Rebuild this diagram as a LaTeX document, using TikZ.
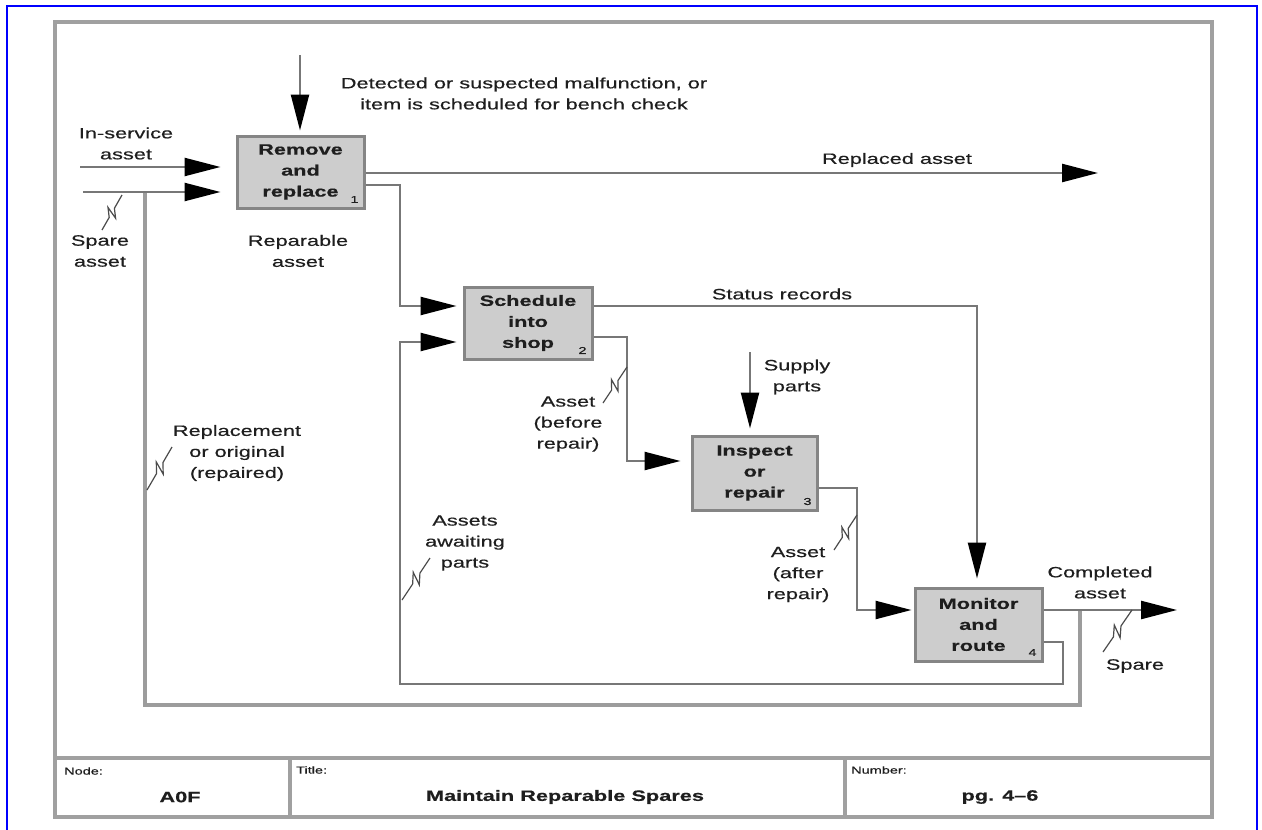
\documentclass[tikz,border=0pt]{standalone}
\usepackage{fontspec}
\usetikzlibrary{arrows.meta,calc}
\newfontfamily\lblfont[FakeStretch=1.45,FakeBold=0.4,Ligatures=TeX]{Liberation Sans}

\definecolor{framegray}{HTML}{A0A0A0}
\definecolor{linegray}{HTML}{777777}
\definecolor{loopgray}{HTML}{9C9C9C}
\definecolor{boxfill}{HTML}{CDCDCD}
\definecolor{boxedge}{HTML}{858585}
\definecolor{inkdark}{HTML}{1E1E1E}

% IDEF0 squiggle tying an arrow to its label
\newcommand\zig[2]{%
  \draw[zigl] (#1) -- ($(#1)!0.38!(#2)$)
    -- ($(#1)!0.58!(#2)!6pt!90:(#2)$)
    -- ($(#1)!0.44!(#2)!6pt!-90:(#2)$)
    -- ($(#1)!0.64!(#2)$) -- (#2);}

\tikzset{
  lbl/.style={font=\lblfont\fontsize{15}{21}\selectfont, text=inkdark, align=center, inner sep=0pt},
  act/.style={draw=boxedge, fill=boxfill, line width=3pt, inner sep=0pt,
              font=\lblfont\bfseries\fontsize{15}{21}\selectfont, text=inkdark, align=center},
  num/.style={font=\lblfont\fontsize{10}{11}\selectfont, text=inkdark, inner sep=0pt},
  small/.style={font=\lblfont\fontsize{10}{11}\selectfont, text=inkdark, inner sep=0pt, anchor=west},
  fbold/.style={font=\lblfont\bfseries\fontsize{15}{18}\selectfont, text=inkdark, inner sep=0pt},
  arr/.style={draw=linegray, line width=2.4pt,
              -{Triangle[length=36pt,width=18pt,color=black]}},
  loopl/.style={draw=loopgray, line width=3.5pt},
  framel/.style={draw=framegray, line width=4pt},
  zigl/.style={draw=inkdark!80, line width=1.2pt, line join=miter},
}

\begin{document}
\begin{tikzpicture}[x=1pt,y=-1pt]
\useasboundingbox (0,0) rectangle (1262,830);
\fill[white] (0,0) rectangle (1262,830);

% page border and sheet frame
\draw[blue, line width=2pt] (7,832) -- (7,6) -- (1257,6) -- (1257,832);
\draw[framel] (55,22) rectangle (1212,817);
\draw[framel] (55,758) -- (1212,758);
\draw[framel] (290,758) -- (290,817);
\draw[framel] (845,758) -- (845,817);

% activity boxes
\node[act, minimum width=127pt, minimum height=72pt] (b1) at (300.5,172) {Remove\\and\\replace};
\node[act, minimum width=128pt, minimum height=72pt] (b2) at (528,323) {Schedule\\into\\shop};
\node[act, minimum width=125pt, minimum height=74pt] (b3) at (754.5,473) {Inspect\\or\\repair};
\node[act, minimum width=127pt, minimum height=73pt] (b4) at (978.5,624.5) {Monitor\\and\\route};

\node[num] (n1) at ($(b1.south east)+(-11,-10)$) {1};
\node[num] (n2) at ($(b2.south east)+(-11,-10)$) {2};
\node[num] (n3) at ($(b3.south east)+(-11,-10)$) {3};
\node[num] (n4) at ($(b4.south east)+(-11,-10)$) {4};

% free ends and bends of the arrows
\coordinate (ctl) at (300,55);
\coordinate (insrv) at (80,167);
\coordinate (spsrc) at (83,192);
\coordinate (repl) at (1098,173);
\coordinate (rp1) at (400,185);
\coordinate (rp2) at (400,306);
\coordinate (st1) at (977,306);
\coordinate (ab1) at (627,337);
\coordinate (ab2) at (627,461);
\coordinate (sup) at (750,352);
\coordinate (aa1) at (857,488);
\coordinate (aa2) at (857,610);
\coordinate (done) at (1177,610);
\coordinate (ol1) at (1080,610);
\coordinate (ol2) at (1080,705);
\coordinate (ol3) at (145,705);
\coordinate (ol4) at (145,192);
\coordinate (il1) at (1063,642);
\coordinate (il2) at (1063,684);
\coordinate (il3) at (400,684);
\coordinate (il4) at (400,342);

% feedback loop back to the spare input (drawn first, under the arrows)
\draw[loopl] (ol1) -- (ol2) -- (ol3) -- (ol4);

% arrows
\draw[arr, shorten >=4pt] (ctl) -- (ctl |- b1.north);
\draw[arr, shorten >=15pt] (insrv) -- (insrv -| b1.west);
\draw[arr, shorten >=15pt] (spsrc) -- (spsrc -| b1.west);
\draw[arr] (repl -| b1.east) -- (repl);
\draw[arr, shorten >=6pt] (rp1 -| b1.east) -- (rp1) -- (rp2) -- (rp2 -| b2.west);
\draw[arr, shorten >=8pt] (st1 -| b2.east) -- (st1) -- (st1 |- b4.north);
\draw[arr, shorten >=10pt] (ab1 -| b2.east) -- (ab1) -- (ab2) -- (ab2 -| b3.west);
\draw[arr, shorten >=6pt] (sup) -- (sup |- b3.north);
\draw[arr, shorten >=2pt] (aa1 -| b3.east) -- (aa1) -- (aa2) -- (aa2 -| b4.west);
\draw[arr] (done -| b4.east) -- (done);
\draw[arr, shorten >=6pt] (il1 -| b4.east) -- (il1) -- (il2) -- (il3) -- (il4) -- (il4 -| b2.west);

% arrow labels
\node[lbl] (tctl) at (524,93.5) {Detected or suspected malfunction, or\\item is scheduled for bench check};
\node[lbl] (tin) at (126,143.5) {In-service\\asset};
\node[lbl] (tsp) at (100,251) {Spare\\asset};
\node[lbl] (trep) at (298,251) {Reparable\\asset};
\node[lbl] (trpl) at (897,160) {Replaced asset};
\node[lbl] (tstat) at (782,294) {Status records};
\node[lbl] (tsup) at (797,377) {Supply\\parts};
\node[lbl] (tab) at (568,424) {Asset\\(before\\repair)};
\node[lbl] (taa) at (798,574.5) {Asset\\(after\\repair)};
\node[lbl] (tcomp) at (1100,582.5) {Completed\\asset};
\node[lbl] (tspare) at (1135,666) {Spare};
\node[lbl] (trorg) at (237,453) {Replacement\\or original\\(repaired)};
\node[lbl] (taw) at (465,543) {Assets\\awaiting\\parts};

% squiggles
\coordinate (z1a) at (122,195);  \coordinate (z1b) at (102,230);
\coordinate (z2a) at (147,490);  \coordinate (z2b) at (172,447);
\coordinate (z3a) at (402,600);  \coordinate (z3b) at (430,558);
\coordinate (z4a) at (627,367);  \coordinate (z4b) at (603,403);
\coordinate (z5a) at (857,515);  \coordinate (z5b) at (834,550);
\coordinate (z6a) at (1132,610); \coordinate (z6b) at (1103,652);
\zig{z1a}{z1b}
\zig{z2a}{z2b}
\zig{z3a}{z3b}
\zig{z4a}{z4b}
\zig{z5a}{z5b}
\zig{z6a}{z6b}

% title block
\node[small] (tnode) at (64,771) {Node:};
\node[fbold] (a0f) at (180,797) {A0F};
\node[small] (ttitle) at (296,770) {Title:};
\node[fbold] (tmain) at (565,797) {Maintain Reparable Spares};
\node[small] (tnum) at (851,770) {Number:};
\node[fbold] (tpg) at (1000,797) {pg. 4–6};
\end{tikzpicture}
\end{document}
